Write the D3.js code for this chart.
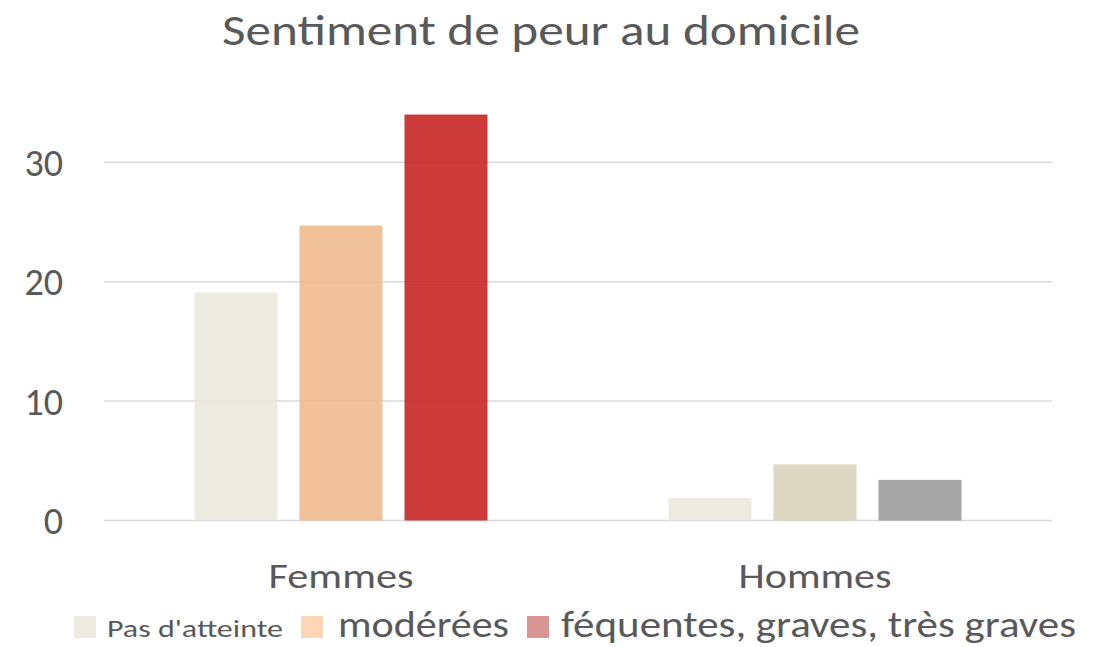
<!DOCTYPE html>
<html>
<head>
<meta charset="utf-8">
<script src="https://cdn.jsdelivr.net/npm/d3@7"></script>
<style>
	body { margin: 0; background: #fff; }
	text { font-family: Calibri, Carlito, Lato, 'Open Sans', sans-serif; fill: #595959; }
</style>
</head>
<body>
<svg id="chart"></svg>
<script>
const title = 'Sentiment de peur au domicile';
const categories = ['Femmes', 'Hommes'];
const series = ["Pas d'atteinte", 'modérées', 'féquentes, graves, très graves'];
const femmes = [19.1, 24.7, 34.0];
const hommes = [1.9, 4.7, 3.4];
const yTicks = [0, 10, 20, 30];

// bar colours per category (the Hommes points were recoloured in the source)
const barColors = [
	['#EAE8DB', '#EEB688', '#C41717'],
	['#EAE8DB', '#D7D1B6', '#959595']
];
const legendColors = ['#EDEBE0', '#FCD5B5', '#D99594'];

const width = 1096;
const height = 647;
const plot = { left: 104, right: 1052, top: 102.6, bottom: 520.5 };

const svg = d3.select('#chart').attr('width', width).attr('height', height);

const x0 = d3.scaleBand().domain(categories).range([plot.left, plot.right]);
const x1 = d3
	.scaleBand()
	.domain(series)
	.range([90.5, 383.5])
	.paddingInner(22 / 105);
const y = d3.scaleLinear().domain([0, 35]).range([plot.bottom, plot.top]);

// grid
svg
	.append('g')
	.selectAll('line')
	.data(yTicks)
	.enter()
	.append('line')
	.attr('x1', plot.left)
	.attr('x2', plot.right)
	.attr('y1', d => y(d))
	.attr('y2', d => y(d))
	.attr('stroke', '#D9D9D9')
	.attr('stroke-width', 1.5);

// y tick labels
svg
	.append('g')
	.selectAll('text')
	.data(yTicks)
	.enter()
	.append('text')
	.attr('x', 63)
	.attr('y', d => y(d))
	.attr('dy', '0.36em')
	.attr('text-anchor', 'end')
	.attr('font-size', 38)
	.text(d => d);

// bars
const rows = [femmes, hommes];
const groups = svg
	.append('g')
	.selectAll('g')
	.data(categories)
	.enter()
	.append('g')
	.attr('transform', d => `translate(${x0(d)},0)`);

groups
	.selectAll('rect')
	.data((d, ci) => series.map((s, si) => ({ s, v: rows[ci][si], fill: barColors[ci][si] })))
	.enter()
	.append('rect')
	.attr('x', d => x1(d.s))
	.attr('width', x1.bandwidth())
	.attr('y', d => y(d.v))
	.attr('height', d => y(0) - y(d.v))
	.attr('fill', d => d.fill)
	.attr('fill-opacity', 0.85);

// category labels
svg
	.append('g')
	.selectAll('text')
	.data(categories)
	.enter()
	.append('text')
	.attr('x', d => x0(d) + x0.bandwidth() / 2)
	.attr('y', 588)
	.attr('text-anchor', 'middle')
	.attr('font-size', 35)
	.attr('textLength', (d, i) => [145, 153][i])
	.attr('lengthAdjust', 'spacingAndGlyphs')
	.text(d => d);

// title
svg
	.append('text')
	.attr('x', 541)
	.attr('y', 45)
	.attr('text-anchor', 'middle')
	.attr('font-size', 43)
	.attr('textLength', 638)
	.attr('lengthAdjust', 'spacingAndGlyphs')
	.text(title);

// legend
const legendItems = [
	{ box: 74, tx: 107, tw: 176, size: 25 },
	{ box: 301, tx: 338, tw: 171, size: 37 },
	{ box: 527, tx: 561, tw: 515, size: 37 }
];

const legend = svg
	.append('g')
	.selectAll('g')
	.data(series)
	.enter()
	.append('g');

legend
	.append('rect')
	.attr('x', (d, i) => legendItems[i].box)
	.attr('y', 616)
	.attr('width', 22)
	.attr('height', 22)
	.attr('fill', (d, i) => legendColors[i]);

legend
	.append('text')
	.attr('x', (d, i) => legendItems[i].tx)
	.attr('y', 637)
	.attr('font-size', (d, i) => legendItems[i].size)
	.attr('textLength', (d, i) => legendItems[i].tw)
	.attr('lengthAdjust', 'spacingAndGlyphs')
	.text(d => d);
</script>
</body>
</html>
